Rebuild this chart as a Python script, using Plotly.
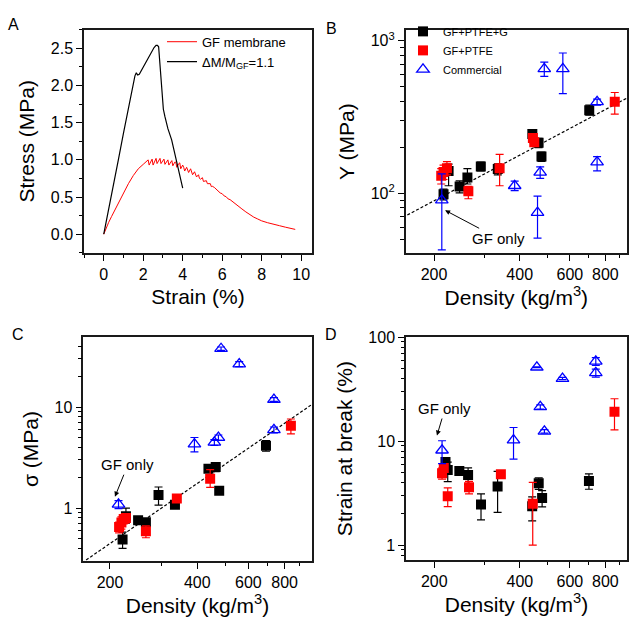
import math
import plotly.graph_objects as go

FONT = "Liberation Sans, Arial, sans-serif"

# ---------------- Panel A: stress-strain curves ----------------
red_strain = [0, 0.1, 0.25, 0.4, 0.57, 0.8, 1.0, 1.25, 1.5, 1.75, 2.0, 2.2, 2.25, 2.3, 2.4, 2.45,
              2.5, 2.6, 2.65, 2.7, 2.8, 2.85, 2.9, 3.0, 3.05, 3.1, 3.2, 3.25, 3.3, 3.4, 3.45, 3.5,
              3.6, 3.65, 3.7, 3.8, 3.85, 3.9, 4.0, 4.05, 4.1, 4.2, 4.25, 4.3, 4.4, 4.45, 4.5, 4.6,
              4.65, 4.7, 4.8, 4.85, 4.9, 5.0, 5.05, 5.1, 5.2, 5.25, 5.3, 5.4, 5.45, 5.5, 5.6, 5.7,
              5.8, 5.9, 6.0, 6.1, 6.2, 6.3, 6.4, 6.6, 6.8, 7.0, 7.2, 7.4, 7.6, 7.8, 8.0, 8.3, 8.6,
              8.9, 9.2, 9.5, 9.7]
red_stress = [0, 0.07, 0.16, 0.24, 0.33, 0.45, 0.55, 0.68, 0.79, 0.88, 0.94, 0.98, 1.0, 0.93, 0.99, 1.01,
              0.93, 1.0, 1.02, 0.95, 1.01, 1.02, 0.95, 1.0, 1.01, 0.94, 0.99, 1.0, 0.93, 0.98, 0.99, 0.92,
              0.97, 0.97, 0.9, 0.95, 0.96, 0.88, 0.93, 0.9, 0.85, 0.9, 0.86, 0.83, 0.88, 0.83, 0.8, 0.84,
              0.79, 0.77, 0.8, 0.75, 0.74, 0.76, 0.71, 0.71, 0.72, 0.68, 0.68, 0.68, 0.64, 0.645, 0.63, 0.6,
              0.585, 0.555, 0.545, 0.515, 0.505, 0.475, 0.465, 0.42, 0.38, 0.34, 0.30, 0.26, 0.23, 0.205, 0.18, 0.155, 0.14,
              0.115, 0.095, 0.075, 0.065]

black_strain = [0, 0.2, 0.4, 0.74, 1.0, 1.2, 1.4, 1.5, 1.58, 1.65, 1.72, 1.8, 1.9, 2.0, 2.2, 2.4, 2.55,
                2.65, 2.72, 2.78, 2.83, 2.88, 2.94, 3.02, 3.1, 3.25, 3.44, 3.6, 3.8, 4.0]
black_stress = [0, 0.26, 0.52, 1.0, 1.36, 1.62, 1.88, 2.0, 2.13, 2.17, 2.14, 2.15, 2.2, 2.25, 2.35, 2.44, 2.51,
                2.54, 2.54, 2.52, 2.35, 2.1, 1.85, 1.68, 1.58, 1.42, 1.27, 1.08, 0.85, 0.62]

# ---------------- Panel B: Young's modulus vs density ----------------
b_blk_x = [216, 225, 246, 262, 292, 335, 443, 466, 477, 702]
b_blk_y = [98.5, 140, 110.5, 127, 150, 144, 245, 214, 174, 350]
b_blk_ep = [8, 15, 10, 18, 10, 12, 12, 15, 12, 29]
b_blk_em = [8, 28, 10, 12, 10, 12, 12, 15, 12, 25]

b_red_x = [212, 216, 222, 264, 340, 445, 450, 863]
b_red_y = [130, 138, 146, 103, 146, 230, 216, 398]
b_red_ep = [15, 15, 15, 8, 34, 15, 12, 60]
b_red_em = [15, 15, 14, 11, 34, 15, 12, 68]

b_blu_x = [213, 384, 462, 472, 488, 567, 748, 748]
b_blu_y = [90, 112, 74.7, 137, 655, 655, 398, 160]
b_blu_ep = [44, 8, 21, 12, 69, 177, 17, 14]
b_blu_em = [47.5, 8, 24, 12, 71, 204, 20, 20]

b_fit_x = [150, 1000]
b_fit_y = [67, 442]

# ---------------- Panel C: strength vs density ----------------
c_blk_x = [221, 227, 250, 266, 294, 335, 437, 463, 476, 690]
c_blk_y = [0.49, 0.83, 0.76, 0.725, 1.35, 1.08, 2.46, 2.55, 1.49, 4.16]
c_blk_ep = [0.09, 0.17, 0.05, 0.06, 0.27, 0.08, 0.2, 0.25, 0.05, 0.5]
c_blk_em = [0.09, 0.12, 0.05, 0.06, 0.28, 0.08, 0.2, 0.25, 0.05, 0.5]

c_red_x = [215, 219, 223, 227, 266, 340, 443, 841]
c_red_y = [0.65, 0.72, 0.78, 0.80, 0.59, 1.25, 1.96, 6.53]
c_red_ep = [0.08, 0.1, 0.08, 0.08, 0.08, 0.1, 0.45, 1.1]
c_red_em = [0.08, 0.1, 0.08, 0.08, 0.08, 0.1, 0.35, 1.1]

c_blu_x = [214, 391, 458, 473, 483, 558, 735, 735]
c_blu_y = [1.09, 4.31, 4.48, 5.0, 37.9, 26.7, 11.9, 5.96]
c_blu_ep = [0.1, 0.7, 0.3, 0.3, 1.5, 1.5, 0.5, 0.4]
c_blu_em = [0.1, 0.7, 0.3, 0.3, 1.5, 1.5, 0.5, 0.4]

c_fit_x = [150, 1000]
c_fit_y = [0.253, 10.77]

# ---------------- Panel D: strain at break vs density ----------------
d_blk_x = [219, 223, 245, 263, 292, 334, 442, 466, 479, 700]
d_blk_y = [6.3, 5.27, 5.15, 4.72, 2.45, 3.66, 2.36, 3.93, 2.83, 4.14]
d_blk_ep = [0.6, 1.0, 0.3, 0.8, 0.65, 1.45, 0.55, 0.5, 0.5, 0.7]
d_blk_em = [0.6, 1.2, 0.3, 0.9, 0.7, 1.6, 0.65, 0.5, 0.5, 0.7]

d_red_x = [213, 216, 223, 265, 343, 444, 861]
d_red_y = [4.9, 5.5, 2.94, 3.6, 4.79, 2.5, 19.1]
d_red_ep = [0.6, 0.5, 0.6, 0.5, 0.4, 1.5, 6.4]
d_red_em = [0.6, 0.5, 0.6, 0.5, 0.4, 1.5, 6.3]

d_blu_x = [213, 380, 459, 472, 488, 565, 740, 740]
d_blu_y = [8.16, 10.2, 51.2, 21.3, 12.4, 39.9, 58.3, 45.2]
d_blu_ep = [1.9, 3.3, 0.5, 1.0, 0.5, 1.0, 5.0, 4.0]
d_blu_em = [2.1, 3.5, 0.5, 1.0, 0.5, 1.0, 5.0, 4.0]

legend_b = ["GF+PTFE+G", "GF+PTFE", "Commercial"]
legend_a = ["GF membrane", "ΔM/M<sub>GF</sub>=1.1"]

RED = "#FF0000"
BLUE = "#0000FF"
BLACK = "black"

W, H = 629, 625
# panel boxes in page pixels: left, right, top, bottom
PANELS = {
    "A": (84, 312, 22, 248),
    "B": (405.7, 627, 22.3, 248.3),
    "C": (83.3, 311.7, 333.3, 560),
    "D": (406, 627, 333.3, 559.3),
}

fig = go.Figure()

fig.add_trace(go.Scatter(x=red_strain, y=red_stress, mode="lines", name=legend_a[0],
                         line=dict(color=RED, width=1), xaxis="x", yaxis="y", legend="legend"))
fig.add_trace(go.Scatter(x=black_strain, y=black_stress, mode="lines", name=legend_a[1],
                         line=dict(color=BLACK, width=1.2), xaxis="x", yaxis="y", legend="legend"))


def err(p, m, color):
    return dict(type="data", symmetric=False, array=p, arrayminus=m, color=color,
                thickness=1.2, width=4)


def add_group(x, y, ep, em, color, symbol, name, xa, ya, show):
    if symbol == "square":
        marker = dict(symbol="square", size=10, color=color, line=dict(width=0))
    else:
        marker = dict(symbol="triangle-up-open", size=11, color=color, line=dict(width=1.3, color=color))
    fig.add_trace(go.Scatter(x=x, y=y, mode="markers", name=name, marker=marker,
                             error_y=err(ep, em, color), xaxis=xa, yaxis=ya,
                             showlegend=show, legend="legend2"))


def add_fit(x, y, xa, ya):
    fig.add_trace(go.Scatter(x=x, y=y, mode="lines", line=dict(color=BLACK, width=1.2, dash="3px,2px"),
                             xaxis=xa, yaxis=ya, showlegend=False, hoverinfo="skip"))


# Panel B
add_fit(b_fit_x, b_fit_y, "x2", "y2")
add_group(b_blk_x, b_blk_y, b_blk_ep, b_blk_em, BLACK, "square", legend_b[0], "x2", "y2", True)
add_group(b_red_x, b_red_y, b_red_ep, b_red_em, RED, "square", legend_b[1], "x2", "y2", True)
add_group(b_blu_x, b_blu_y, b_blu_ep, b_blu_em, BLUE, "tri", legend_b[2], "x2", "y2", True)
# Panel C
add_fit(c_fit_x, c_fit_y, "x3", "y3")
add_group(c_blk_x, c_blk_y, c_blk_ep, c_blk_em, BLACK, "square", legend_b[0], "x3", "y3", False)
add_group(c_red_x, c_red_y, c_red_ep, c_red_em, RED, "square", legend_b[1], "x3", "y3", False)
add_group(c_blu_x, c_blu_y, c_blu_ep, c_blu_em, BLUE, "tri", legend_b[2], "x3", "y3", False)
# Panel D
add_group(d_blk_x, d_blk_y, d_blk_ep, d_blk_em, BLACK, "square", legend_b[0], "x4", "y4", False)
add_group(d_red_x, d_red_y, d_red_ep, d_red_em, RED, "square", legend_b[1], "x4", "y4", False)
add_group(d_blu_x, d_blu_y, d_blu_ep, d_blu_em, BLUE, "tri", legend_b[2], "x4", "y4", False)


def dom(a, b):
    return [a / W, b / W]


def ydom(top, bottom):
    return [1 - bottom / H, 1 - top / H]


minor_style = dict(ticks="outside", ticklen=3.5, tickwidth=1.2, tickcolor=BLACK, showgrid=False)


def base_axis(**kw):
    d = dict(showline=True, linecolor="#1a1a1a", linewidth=1.5, mirror=True, ticks="outside",
             tickcolor=BLACK, tickwidth=1.2, ticklen=6, showgrid=False, zeroline=False,
             tickfont=dict(family=FONT, size=16, color=BLACK),
             title_font=dict(family=FONT, size=21, color=BLACK))
    d.update(kw)
    return d


dens_ticks = [200, 400, 600, 800]
dens_minor = [300, 500, 700, 900]
pA, pB, pC, pD = PANELS["A"], PANELS["B"], PANELS["C"], PANELS["D"]

fig.update_layout(
    width=W, height=H, margin=dict(l=0, r=0, t=0, b=0), autosize=False,
    paper_bgcolor="white", plot_bgcolor="white",
    font=dict(family=FONT, color=BLACK),
    xaxis=base_axis(domain=dom(pA[0], pA[1]), anchor="y", range=[-1, 10.55],
                    tickvals=[0, 2, 4, 6, 8, 10],
                    minor=dict(dtick=1, tick0=0, **minor_style),
                    title=dict(text="Strain (%)", standoff=8)),
    yaxis=base_axis(domain=ydom(pA[2], pA[3]), anchor="x", range=[-0.25, 2.75],
                    tickvals=[0, 0.5, 1.0, 1.5, 2.0, 2.5], tickformat=".1f",
                    minor=dict(dtick=0.25, tick0=0, **minor_style),
                    title=dict(text="Stress (MPa)", standoff=10)),
    xaxis2=base_axis(domain=dom(pB[0], pB[1]), anchor="y2", type="log", range=[2.2015, 2.979],
                     tickvals=dens_ticks,
                     minor=dict(tickmode="array", tickvals=dens_minor, **minor_style),
                     title=dict(text="Density (kg/m<sup>3</sup>)", standoff=8)),
    yaxis2=base_axis(domain=ydom(pB[2], pB[3]), anchor="x2", type="log", range=[1.607, 3.071],
                     tickvals=[100, 1000], ticktext=["10<sup>2</sup>", "10<sup>3</sup>"],
                     minor=dict(tickmode="array",
                                tickvals=[50, 60, 70, 80, 90, 200, 300, 400, 500, 600, 700, 800, 900],
                                **minor_style),
                     title=dict(text="Y (MPa)", standoff=10)),
    xaxis3=base_axis(domain=dom(pC[0], pC[1]), anchor="y3", type="log", range=[2.209, 2.9965],
                     tickvals=dens_ticks,
                     minor=dict(tickmode="array", tickvals=dens_minor, **minor_style),
                     title=dict(text="Density (kg/m<sup>3</sup>)", standoff=8)),
    yaxis3=base_axis(domain=ydom(pC[2], pC[3]), anchor="x3", type="log", range=[-0.521, 1.694],
                     tickvals=[1, 10], ticktext=["1", "10"],
                     minor=dict(tickmode="array",
                                tickvals=[0.4, 0.5, 0.6, 0.7, 0.8, 0.9, 2, 3, 4, 5, 6, 7, 8, 9, 20, 30, 40],
                                **minor_style),
                     title=dict(text="σ (MPa)", standoff=10)),
    xaxis4=base_axis(domain=dom(pD[0], pD[1]), anchor="y4", type="log", range=[2.2015, 2.979],
                     tickvals=dens_ticks,
                     minor=dict(tickmode="array", tickvals=dens_minor, **minor_style),
                     title=dict(text="Density (kg/m<sup>3</sup>)", standoff=8)),
    yaxis4=base_axis(domain=ydom(pD[2], pD[3]), anchor="x4", type="log", range=[-0.145, 2.0],
                     tickvals=[1, 10, 100], ticktext=["1", "10", "100"],
                     minor=dict(tickmode="array",
                                tickvals=[0.8, 0.9, 2, 3, 4, 5, 6, 7, 8, 9, 20, 30, 40, 50, 60, 70, 80, 90],
                                **minor_style),
                     title=dict(text="Strain at break (%)", standoff=10)),
    legend=dict(x=162 / W, y=1 - 19 / H, xanchor="left", yanchor="top", bgcolor="rgba(0,0,0,0)",
                font=dict(family=FONT, size=13, color=BLACK), itemwidth=30, tracegroupgap=0),
    legend2=dict(x=403 / W, y=1 - 9 / H, xanchor="left", yanchor="top", bgcolor="rgba(0,0,0,0)",
                 font=dict(family=FONT, size=11, color=BLACK), itemwidth=30, tracegroupgap=0),
)

panel_letters = [("A", 14, 17), ("B", 331, 21), ("C", 18, 331), ("D", 331, 331)]
for t, px, py in panel_letters:
    fig.add_annotation(text=t, x=px / W, y=1 - py / H, xref="paper", yref="paper",
                       xanchor="center", yanchor="middle",
                       showarrow=False, font=dict(family=FONT, size=16, color=BLACK))

gf_notes = [("x2", "y2", 218.7, 77.3, 53, 28), ("x3", "y3", 208, 1.30, 13, -32), ("x4", "y4", 204.4, 11.3, 8, -27)]
for xa, ya, gx, gy, ax, ay in gf_notes:
    fig.add_annotation(text="GF only", x=math.log10(gx), y=math.log10(gy), xref=xa, yref=ya,
                       ax=ax, ay=ay, showarrow=True, arrowhead=2, arrowsize=1, arrowwidth=1,
                       arrowcolor=BLACK, font=dict(family=FONT, size=15, color=BLACK))

fig.write_html("out.html", config={"displayModeBar": False},
               post_script="document.body.style.margin='0px';document.body.style.overflow='hidden';")
